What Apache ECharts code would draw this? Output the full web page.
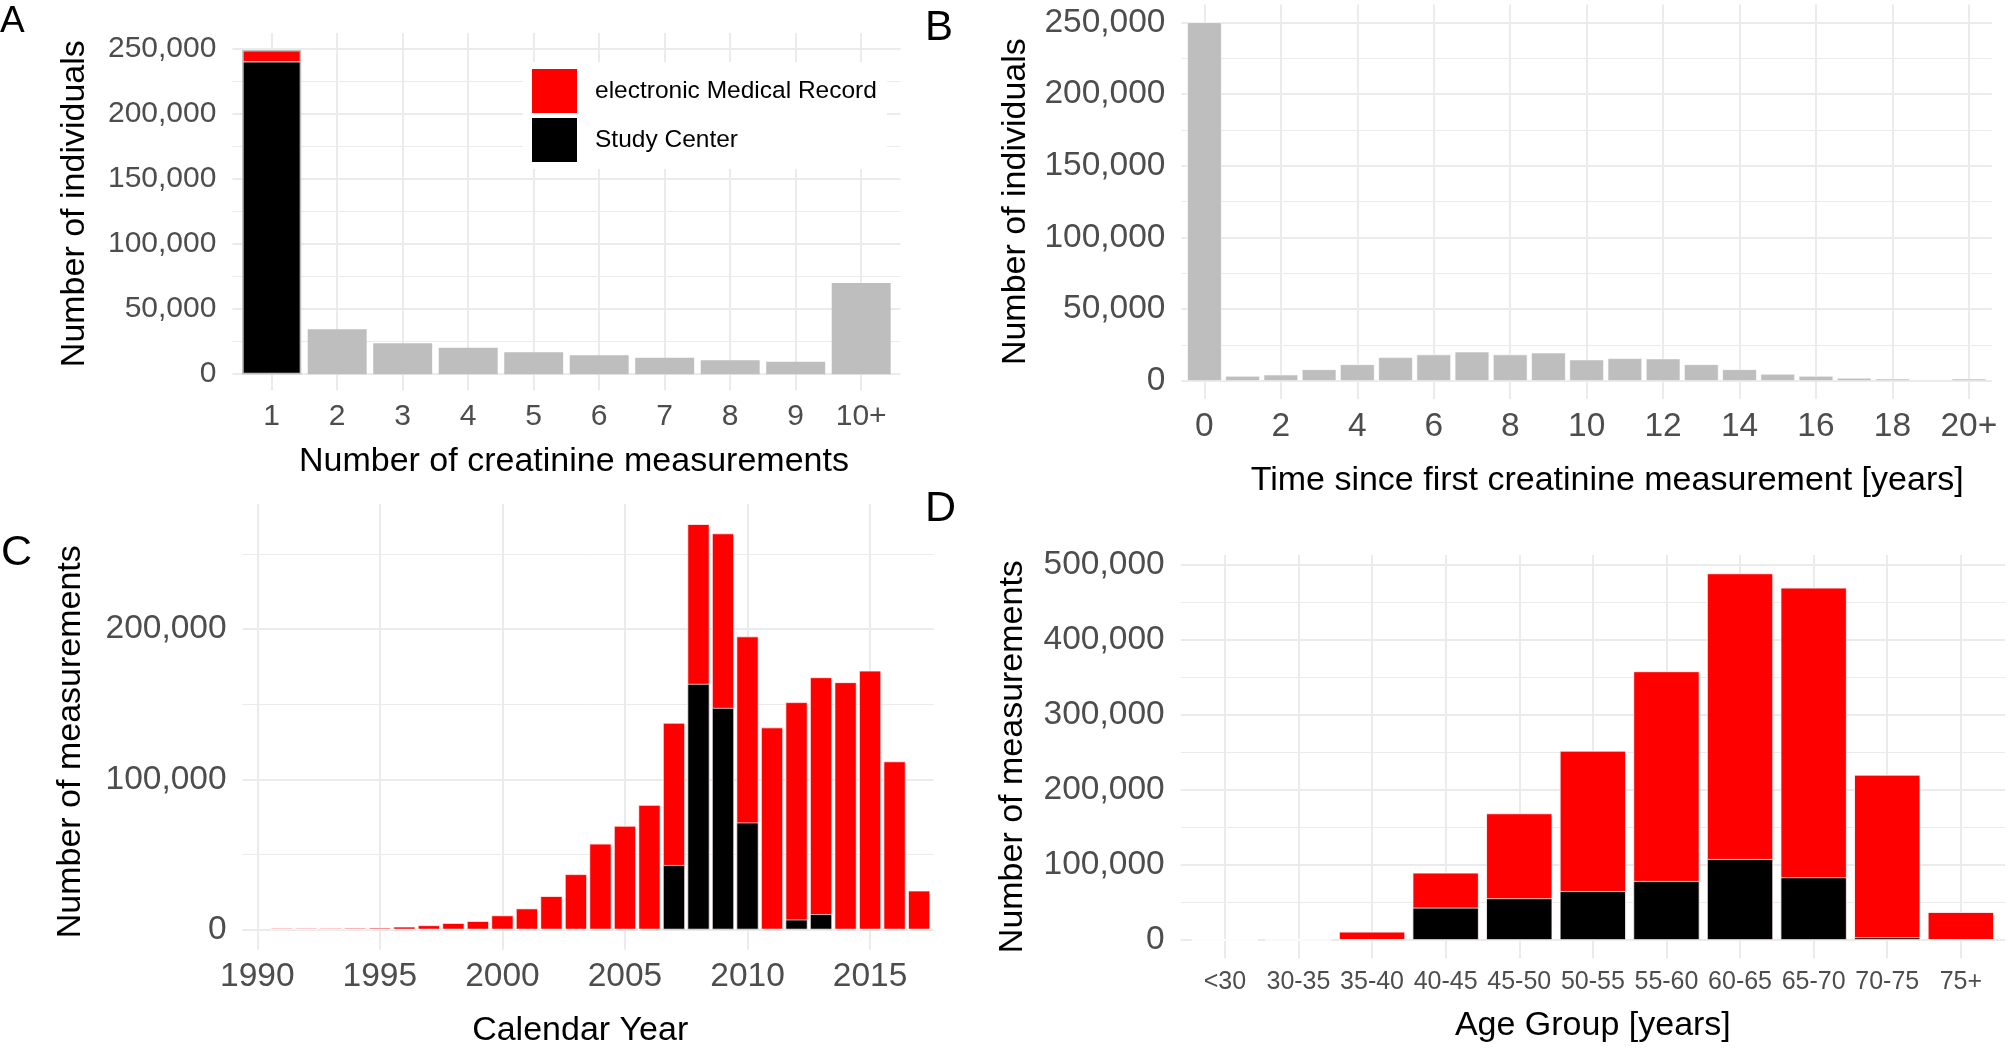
<!DOCTYPE html>
<html><head><meta charset="utf-8">
<script src="https://cdn.jsdelivr.net/npm/echarts@6/dist/echarts.min.js"></script>
<style>html,body{margin:0;padding:0;background:#fff}#c{width:2008px;height:1049px}</style>
</head><body><div id="c"></div>
<script>
const FONT = "'Liberation Sans', Arial, Helvetica, sans-serif";

// ---- Panel A: number of creatinine measurements per individual
const countCategories = ['1', '2', '3', '4', '5', '6', '7', '8', '9', '10+'];
const countStudyCenter = [241000, null, null, null, null, null, null, null, null, null];
const countEMR = [8300, null, null, null, null, null, null, null, null, null];
const countOther = [null, 34500, 23800, 20400, 16800, 14600, 12600, 10800, 9500, 70200];

// ---- Panel B: time since first creatinine measurement
const timeCategories = ['0','1','2','3','4','5','6','7','8','9','10','11','12','13','14','15','16','17','18','19','20+'];
const timeIndividuals = [250000, 3500, 4400, 8100, 11600, 16500, 18400, 20400, 18400, 19700, 14900, 15800, 15600, 11600, 8100, 4900, 3500, 2100, 1600, 900, 1600];

// ---- Panel C: calendar year
const years = [1991,1992,1993,1994,1995,1996,1997,1998,1999,2000,2001,2002,2003,2004,2005,2006,2007,2008,2009,2010,2011,2012,2013,2014,2015,2016,2017];
const yearStudyCenter = [0,0,0,0,0,0,0,0,0,0,0,0,0,0,0,0,42900,163500,147500,71200,0,6600,10200,0,0,0,0];
const yearEMR = [1000,1000,1000,1100,1200,1900,2800,4300,5600,9400,14000,22200,36800,57100,69000,82900,94700,106400,116200,123900,134500,144700,157700,164600,172300,111900,25900];
const yearTicks = [1990, 1995, 2000, 2005, 2010, 2015];

// ---- Panel D: age group
const ageCategories = ['<30','30-35','35-40','40-45','45-50','50-55','55-60','60-65','65-70','70-75','75+'];
const ageStudyCenter = [0, 0, 0, 43100, 55600, 65300, 78700, 108000, 83600, 3600, 0];
const ageEMR = [0, 1600, 11100, 46700, 113300, 187100, 279600, 380900, 386200, 216800, 37300];

const EMR_NAME = 'electronic Medical Record';
const SC_NAME = 'Study Center';

const GRIDC = '#ebebeb', NONE = 'rgba(0,0,0,0)';
function tickList(min, max, step) {
  const out = []; const n = Math.round((max - min) / step);
  for (let k = 0; k <= n; k++) out.push(+(min + k * step).toFixed(6));
  return out;
}
function isMult(v, m) { const q = v / m; return Math.abs(q - Math.round(q)) < 1e-6; }
function fmt(v) { return Math.round(v).toLocaleString('en-US'); }

const grids = [], xAxes = [], yAxes = [], series = [];

function addPanel(p) {
  const gi = grids.length;
  grids.push({ left: p.grid[0], top: p.grid[1], width: p.grid[2], height: p.grid[3], containLabel: false });
  const xt = tickList(p.x.min, p.x.max, p.x.step);
  xAxes.push({
    type: 'value', gridIndex: gi, min: p.x.min, max: p.x.max, interval: p.x.step,
    axisLine: { show: false }, axisTick: { show: false },
    splitLine: { show: true, lineStyle: { color: xt.map(v => p.x.isMajor(v) ? GRIDC : NONE), width: 2 } },
    axisLabel: { margin: p.x.margin, fontSize: p.x.fontSize, color: '#4d4d4d', fontFamily: FONT, formatter: v => p.x.label(v) },
    name: p.x.name, nameLocation: 'middle', nameGap: p.x.nameGap, nameMoveOverlap: false,
    nameTextStyle: { fontSize: 34, color: '#000', fontFamily: FONT, verticalAlign: 'middle', padding: p.x.namePad || [0,0,0,0] }
  });
  const yt = tickList(p.y.min, p.y.max, p.y.step);
  const yi = yAxes.length;
  yAxes.push({
    type: 'value', gridIndex: gi, min: p.y.min, max: p.y.max, interval: p.y.step,
    axisLine: { show: false }, axisTick: { show: false },
    splitLine: { show: true, lineStyle: { color: yt.map(v => isMult(v, p.y.major) ? GRIDC : NONE), width: 2 } },
    axisLabel: { margin: p.y.margin, fontSize: p.y.fontSize, color: '#4d4d4d', fontFamily: FONT,
      formatter: v => isMult(v, p.y.major) ? fmt(v) : '' },
    name: p.y.name, nameLocation: 'middle', nameGap: p.y.nameGap, nameRotate: 90, nameMoveOverlap: false,
    nameTextStyle: { fontSize: 34, color: '#000', fontFamily: FONT, verticalAlign: 'middle', padding: p.y.namePad || [0,0,0,0] }
  });
  yAxes.push({
    type: 'value', gridIndex: gi, min: p.y.min, max: p.y.max, interval: p.y.step,
    axisLine: { show: false }, axisTick: { show: false }, axisLabel: { show: false },
    splitLine: { show: true, lineStyle: { color: yt.map(v => (!isMult(v, p.y.major) && isMult(v, p.y.minor)) ? GRIDC : NONE), width: 1 } }
  });
  p.series.forEach(s => {
    series.push({
      type: 'bar', name: s.name, xAxisIndex: gi, yAxisIndex: yi,
      data: s.data, barWidth: '90%', barGap: '-100%',
      itemStyle: { color: s.color, borderColor: s.border, borderWidth: s.borderWidth },
      emphasis: { disabled: true }, silent: true
    });
  });
}

function catLabel(cats, every) {
  return v => {
    const r = Math.round(v);
    if (Math.abs(v - r) > 1e-6 || r < 0 || r >= cats.length || r % every !== 0) return '';
    return cats[r];
  };
}
function catMajor(every) { return v => { const r = Math.round(v); return Math.abs(v - r) < 1e-6 && r % every === 0; }; }
function pairs(xs, ys) { return ys.map((y, i) => [xs[i], y]); }
const idx = arr => arr.map((_, i) => i);
const sumArr = (a, b) => a.map((v, i) => (v == null && b[i] == null) ? null : (v || 0) + (b[i] || 0));

// Panel A
addPanel({
  grid: [232.4, 32.95, 668.1, 357.5],
  x: { min: -0.6, max: 9.6, step: 0.2, isMajor: catMajor(1), label: catLabel(countCategories, 1),
       margin: 11, fontSize: 30, name: 'Number of creatinine measurements', nameGap: 70.9, namePad: [0,0,0,15] },
  y: { min: -12500, max: 262500, step: 500, major: 50000, minor: 25000, margin: 16, fontSize: 30,
       name: 'Number of individuals', nameGap: 158, namePad: [0,0,0,16] },
  series: [
    { name: 'other', data: pairs(idx(countCategories), countOther), color: '#bebebe', border: '#bebebe', borderWidth: 1.5 },
    { name: EMR_NAME, data: pairs(idx(countCategories), sumArr(countStudyCenter, countEMR)), color: '#ff0000', border: '#bebebe', borderWidth: 1.5 },
    { name: SC_NAME, data: pairs(idx(countCategories), countStudyCenter), color: '#000000', border: '#bebebe', borderWidth: 1.5 }
  ]
});

// Panel B
addPanel({
  grid: [1181.5, 4.4, 810.3, 394.5],
  x: { min: -0.6, max: 20.6, step: 0.2, isMajor: catMajor(2), label: catLabel(timeCategories, 2),
       margin: 10.5, fontSize: 33.5, name: 'Time since first creatinine measurement [years]', nameGap: 81.8, namePad: [0,0,0,41] },
  y: { min: -12500, max: 262500, step: 500, major: 50000, minor: 25000, margin: 16, fontSize: 33.5,
       name: 'Number of individuals', nameGap: 166 },
  series: [
    { name: 'individuals', data: pairs(idx(timeCategories), timeIndividuals), color: '#bebebe', border: '#ffffff', borderWidth: 0.6 }
  ]
});

// Panel C
addPanel({
  grid: [242.6, 503.7, 691.2, 447.3],
  x: { min: 1989.4, max: 2017.6, step: 0.2,
       isMajor: v => yearTicks.some(t => Math.abs(v - t) < 1e-6),
       label: v => { const t = yearTicks.find(t => Math.abs(v - t) < 1e-6); return t ? String(t) : ''; },
       margin: 10, fontSize: 33.5, name: 'Calendar Year', nameGap: 81.2, namePad: [0,16,0,0] },
  y: { min: -13500, max: 283500, step: 500, major: 100000, minor: 50000, margin: 16, fontSize: 33.5,
       name: 'Number of measurements', nameGap: 172, namePad: [0,30,0,0] },
  series: [
    { name: EMR_NAME, data: pairs(years, sumArr(yearStudyCenter, yearEMR)), color: '#ff0000', border: '#ffffff', borderWidth: 0.7 },
    { name: SC_NAME, data: pairs(years, yearStudyCenter), color: '#000000', border: '#ffffff', borderWidth: 0.7 }
  ]
});

// Panel D
addPanel({
  grid: [1180.7, 554.9, 826.6, 403.5],
  x: { min: -0.6, max: 10.6, step: 0.2, isMajor: catMajor(1), label: catLabel(ageCategories, 1),
       margin: 11.5, fontSize: 25, name: 'Age Group [years]', nameGap: 67.4 },
  y: { min: -24500, max: 513500, step: 500, major: 100000, minor: 50000, margin: 16, fontSize: 33.5,
       name: 'Number of measurements', nameGap: 168 },
  series: [
    { name: EMR_NAME, data: pairs(idx(ageCategories), sumArr(ageStudyCenter, ageEMR)), color: '#ff0000', border: '#ffffff', borderWidth: 0.8 },
    { name: SC_NAME, data: pairs(idx(ageCategories), ageStudyCenter), color: '#000000', border: '#ffffff', borderWidth: 0.8 }
  ]
});

const letters = [
  { t: 'A', x: 0, y: 21.8, s: 37 },
  { t: 'B', x: 925, y: 28.8, s: 42 },
  { t: 'C', x: 1, y: 552.7, s: 43 },
  { t: 'D', x: 925, y: 509.4, s: 43 }
];

const chart = echarts.init(document.getElementById('c'), null, { renderer: 'canvas' });
chart.setOption({
  animation: false,
  backgroundColor: '#ffffff',
  textStyle: { fontFamily: FONT },
  grid: grids, xAxis: xAxes, yAxis: yAxes, series: series,
  legend: {
    show: true, left: 523, top: 62, orient: 'vertical', itemWidth: 45, itemHeight: 44, itemGap: 5,
    icon: 'rect', padding: [7, 10, 7, 9], backgroundColor: '#ffffff', selectedMode: false,
    data: [EMR_NAME, SC_NAME],
    textStyle: { fontSize: 24.5, color: '#000', fontFamily: FONT, padding: [0, 0, 0, 13] },
    itemStyle: { borderWidth: 0 }
  },
  graphic: letters.map(l => ({
    type: 'text', x: l.x, y: l.y, silent: true,
    style: { text: l.t, fontSize: l.s, fontFamily: FONT, fill: '#000', align: 'left', verticalAlign: 'middle' }
  }))
});
</script>
</body></html>
